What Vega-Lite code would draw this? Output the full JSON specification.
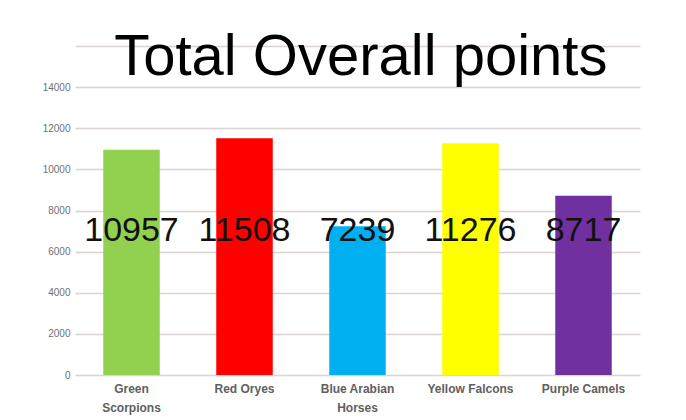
{
  "$schema": "https://vega.github.io/schema/vega-lite/v6.json",
  "autosize": {"type": "none"},
  "width": 565,
  "height": 329,
  "padding": {"left": 75, "top": 46, "right": 46, "bottom": 45},
  "background": "white",
  "title": {
    "text": "Total Overall points",
    "anchor": "start",
    "dx": 72,
    "offset": -87,
    "baseline": "alphabetic",
    "font": "Liberation Sans",
    "fontSize": 58,
    "fontWeight": "normal",
    "color": "#000000"
  },
  "data": {
    "values": [
      {"team": "Green Scorpions", "points": 10957},
      {"team": "Red Oryes", "points": 11508},
      {"team": "Blue Arabian Horses", "points": 7239},
      {"team": "Yellow Falcons", "points": 11276},
      {"team": "Purple Camels", "points": 8717}
    ]
  },
  "config": {"view": {"stroke": null}},
  "encoding": {
    "x": {
      "field": "team",
      "type": "nominal",
      "sort": null,
      "scale": {"paddingInner": 0.5, "paddingOuter": 0.25},
      "axis": {
        "title": null,
        "labelAngle": 0,
        "domain": false,
        "ticks": false,
        "labelFont": "Liberation Sans",
        "labelFontSize": 12,
        "labelFontWeight": "bold",
        "labelColor": "#606060",
        "labelPadding": 8,
        "labelLineHeight": 19,
        "labelExpr": "datum.value == 'Green Scorpions' ? ['Green', 'Scorpions'] : datum.value == 'Blue Arabian Horses' ? ['Blue Arabian', 'Horses'] : datum.label"
      }
    }
  },
  "layer": [
    {
      "mark": {"type": "bar"},
      "encoding": {
        "y": {
          "field": "points",
          "type": "quantitative",
          "scale": {"domain": [0, 16000], "nice": false},
          "axis": {
            "title": null,
            "values": [0, 2000, 4000, 6000, 8000, 10000, 12000, 14000, 16000],
            "domain": false,
            "ticks": false,
            "grid": true,
            "gridColor": "#dcd4d0",
            "gridWidth": 1.5,
            "labelFont": "Liberation Sans",
            "labelFontSize": 10,
            "labelColor": "#707070",
            "labelPadding": 5,
            "labelExpr": "datum.value == 16000 ? '' : datum.value"
          }
        },
        "color": {
          "field": "team",
          "type": "nominal",
          "scale": {
            "domain": ["Green Scorpions", "Red Oryes", "Blue Arabian Horses", "Yellow Falcons", "Purple Camels"],
            "range": ["#92D050", "#FF0000", "#00B0F0", "#FFFF00", "#7030A0"]
          },
          "legend": null
        }
      }
    },
    {
      "mark": {"type": "text", "font": "Liberation Sans", "fontSize": 34, "color": "#111111", "baseline": "middle"},
      "encoding": {
        "y": {"datum": 7000},
        "text": {"field": "points", "type": "quantitative", "format": "d"}
      }
    }
  ]
}
